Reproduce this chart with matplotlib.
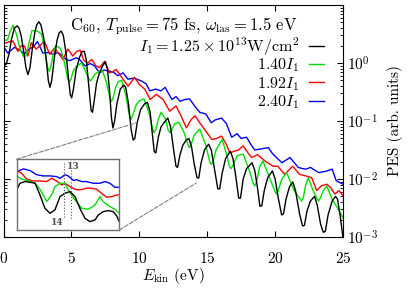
import matplotlib
matplotlib.use("Agg")
import matplotlib.pyplot as plt
import numpy as np
from matplotlib.patches import ConnectionPatch
from matplotlib.lines import Line2D

plt.rcParams["font.family"] = "serif"
plt.rcParams["font.serif"] = ["cmr10", "DejaVu Serif"]
plt.rcParams["mathtext.fontset"] = "cm"
plt.rcParams["axes.unicode_minus"] = False
plt.rcParams["axes.formatter.use_mathtext"] = True

# photoelectron spectra, values are log10(PES)
black_E = [0.0, 0.1, 0.2, 0.4, 0.6, 0.8, 1.0, 1.15, 1.3, 1.5, 1.65, 1.8, 1.95, 2.1,
           2.3, 2.45, 2.6, 2.75, 2.95, 3.15, 3.3, 3.42, 3.55, 3.75, 3.95, 4.1, 4.25,
           4.4, 4.6, 4.8, 4.92, 5.02, 5.15, 5.35, 5.6, 5.8, 5.95, 6.1, 6.3, 6.45,
           6.55, 6.68, 6.85, 7.05, 7.3, 7.5, 7.65, 7.8, 7.95, 8.06, 8.18, 8.35, 8.6,
           8.85, 9.0, 9.2, 9.4, 9.55, 9.67, 9.85, 10.1, 10.4, 10.6, 10.8, 10.95,
           11.1, 11.22, 11.4, 11.6, 11.85, 12.1, 12.3, 12.5, 12.7, 12.82, 12.98,
           13.2, 13.45, 13.65, 13.85, 14.05, 14.25, 14.38, 14.55, 14.8, 15.1, 15.3,
           15.55, 15.78, 15.92, 16.1, 16.35, 16.7, 16.9, 17.1, 17.32, 17.45, 17.65,
           17.9, 18.3, 18.5, 18.7, 18.88, 19.02, 19.2, 19.45, 19.8, 20.0, 20.25,
           20.48, 20.62, 20.8, 21.05, 21.3, 21.5, 21.8, 22.02, 22.16, 22.35, 22.6,
           22.9, 23.1, 23.35, 23.55, 23.7, 23.9, 24.2, 24.45, 24.6, 24.8, 25.0]
black_logpes = [0.0, -0.04, -0.02, 0.15, 0.42, 0.6, 0.64, 0.6, 0.47, 0.18, -0.08, -0.2,
                -0.08, 0.2, 0.52, 0.66, 0.71, 0.66, 0.45, 0.05, -0.3, -0.42, -0.3, 0.1,
                0.4, 0.52, 0.55, 0.48, 0.18, -0.3, -0.55, -0.6, -0.45, -0.12, 0.1, 0.2,
                0.2, 0.05, -0.45, -0.82, -0.85, -0.65, -0.35, -0.18, -0.05, 0.02, -0.1,
                -0.45, -0.95, -1.12, -1.0, -0.7, -0.45, -0.38, -0.42, -0.7, -1.15,
                -1.33, -1.3, -1.02, -0.8, -0.7, -0.68, -0.85, -1.2, -1.53, -1.55,
                -1.28, -1.1, -1.02, -0.95, -1.1, -1.45, -1.78, -1.8, -1.6, -1.42,
                -1.33, -1.3, -1.45, -1.75, -1.98, -1.98, -1.72, -1.5, -1.4, -1.5,
                -1.85, -2.17, -2.17, -1.9, -1.65, -1.52, -1.65, -1.95, -2.33, -2.33,
                -2.0, -1.82, -1.72, -1.85, -2.15, -2.47, -2.46, -2.2, -1.98, -1.86,
                -2.0, -2.35, -2.62, -2.6, -2.35, -2.14, -2.05, -2.2, -2.6, -2.81, -2.8,
                -2.55, -2.38, -2.3, -2.45, -2.78, -2.92, -2.9, -2.62, -2.38, -2.3,
                -2.35, -2.65, -3.02]

green_E = [0.0, 0.3, 0.5, 0.7, 0.95, 1.2, 1.43, 1.55, 1.67, 1.85, 2.1, 2.5, 2.8, 3.05,
           3.25, 3.35, 3.47, 3.65, 3.85, 4.2, 4.5, 4.73, 4.85, 4.97, 5.15, 5.4, 5.75,
           6.05, 6.28, 6.4, 6.52, 6.75, 7.0, 7.3, 7.6, 7.83, 7.95, 8.07, 8.25, 8.45,
           8.7, 9.0, 9.27, 9.4, 9.52, 9.75, 10.0, 10.35, 10.7, 10.98, 11.1, 11.22,
           11.4, 11.6, 11.9, 12.13, 12.25, 12.37, 12.6, 12.9, 13.3, 13.58, 13.7,
           13.82, 14.05, 14.45, 14.9, 15.18, 15.3, 15.42, 15.65, 16.1, 16.4, 16.63,
           16.75, 16.87, 17.2, 17.65, 18.1, 18.38, 18.5, 18.62, 18.85, 19.1, 19.6,
           19.98, 20.1, 20.22, 20.5, 20.85, 21.4, 21.83, 21.95, 22.07, 22.25, 22.45,
           22.8, 23.08, 23.2, 23.32, 23.55, 23.8, 24.2, 24.6, 25.0]
green_logpes = [0.38, 0.4, 0.55, 0.65, 0.5, 0.25, 0.13, 0.1, 0.14, 0.32, 0.56, 0.55,
                0.5, 0.2, -0.08, -0.14, -0.08, 0.14, 0.3, 0.25, 0.0, -0.28, -0.33,
                -0.28, -0.13, -0.05, 0.0, -0.15, -0.27, -0.31, -0.27, -0.19, -0.15,
                -0.14, -0.35, -0.6, -0.66, -0.6, -0.43, -0.32, -0.3, -0.55, -0.9,
                -0.97, -0.9, -0.73, -0.65, -0.62, -0.85, -1.14, -1.2, -1.14, -0.97,
                -0.85, -0.95, -1.16, -1.2, -1.16, -1.05, -1.02, -1.2, -1.41, -1.46,
                -1.4, -1.24, -1.14, -1.42, -1.7, -1.75, -1.7, -1.5, -1.32, -1.55,
                -1.78, -1.82, -1.78, -1.6, -1.57, -1.85, -2.07, -2.12, -2.06, -1.8,
                -1.69, -1.98, -2.21, -2.26, -2.2, -2.0, -1.89, -2.2, -2.34, -2.38,
                -2.33, -2.1, -1.98, -2.2, -2.34, -2.38, -2.33, -2.2, -2.12, -2.35,
                -2.5, -2.67]

red_E = [0.0, 0.35, 0.7, 1.05, 1.3, 1.55, 1.8, 2.04, 2.4, 2.7, 3.0, 3.4, 3.76, 4.1,
         4.37, 4.74, 5.1, 5.4, 5.65, 5.9, 6.2, 6.5, 6.8, 7.08, 7.45, 7.8, 8.05, 8.3,
         8.8, 9.17, 9.66, 10.0, 10.4, 10.8, 11.26, 11.75, 12.24, 12.7, 13.05, 13.47,
         13.8, 14.1, 14.45, 15.07, 15.35, 15.7, 16.05, 16.4, 16.67, 17.0, 17.3,
         17.65, 18.0, 18.27, 18.7, 19.25, 19.86, 20.2, 20.7, 21.3, 21.8, 22.3,
         22.7, 23.06, 23.4, 23.8, 24.1, 24.4, 24.7, 25.0]
red_logpes = [0.33, 0.36, 0.38, 0.2, 0.3, 0.29, 0.12, 0.35, 0.24, 0.3, 0.38, 0.15, 0.26,
              0.15, 0.06, 0.24, 0.12, 0.2, 0.22, 0.05, 0.0, 0.06, -0.05, -0.08, 0.03,
              -0.17, -0.15, -0.11, -0.28, -0.4, -0.25, -0.37, -0.45, -0.63, -0.54,
              -0.63, -0.83, -0.74, -0.9, -1.12, -0.98, -0.91, -1.03, -1.23, -1.32,
              -1.3, -1.26, -1.4, -1.55, -1.52, -1.5, -1.43, -1.55, -1.63, -1.58,
              -1.69, -1.78, -1.78, -1.92, -1.78, -1.92, -1.95, -1.98, -2.2, -2.12,
              -2.09, -2.15, -2.26, -2.2, -2.29]

blue_E = [0.0, 0.32, 0.8, 1.2, 1.55, 1.9, 2.2, 2.5, 2.9, 3.3, 3.64, 4.0, 4.25, 4.6,
          4.87, 5.36, 5.6, 6.0, 6.4, 6.7, 7.08, 7.4, 7.8, 8.1, 8.43, 8.8, 9.17, 9.6,
          10.15, 10.5, 10.77, 11.2, 11.6, 11.9, 12.4, 12.7, 13.0, 13.35, 13.7, 14.1,
          14.45, 14.9, 15.3, 15.6, 16.05, 16.4, 16.8, 17.2, 17.5, 17.9, 18.2, 18.5,
          19.0, 19.5, 19.8, 20.1, 20.5, 21.1, 21.7, 22.0, 22.3, 22.6, 23.2, 23.7,
          24.2, 24.5, 25.0]
blue_logpes = [0.28, 0.17, 0.27, 0.22, 0.16, 0.24, 0.28, 0.37, 0.17, 0.18, 0.15, 0.18,
               0.14, 0.06, 0.04, 0.09, 0.06, -0.05, -0.01, -0.05, -0.17, -0.12, -0.14,
               -0.16, -0.22, -0.17, -0.28, -0.26, -0.31, -0.36, -0.48, -0.45, -0.48,
               -0.42, -0.63, -0.58, -0.66, -0.63, -0.62, -0.75, -0.85, -0.88, -1.03,
               -0.98, -0.95, -1.04, -1.28, -1.22, -1.3, -1.28, -1.4, -1.5, -1.48,
               -1.46, -1.56, -1.63, -1.72, -1.63, -1.8, -1.82, -1.83, -1.8, -1.89,
               -1.87, -1.83, -2.03, -2.09]

# inset (zoom on the 13th/14th peak region)
ins_black_E = [9.8, 9.94, 10.16, 10.37, 10.59, 10.8, 11.01, 11.23, 11.44, 11.66, 11.87,
               12.09, 12.3, 12.51, 12.73, 12.94, 13.16, 13.3, 13.51, 13.73, 13.94,
               14.09, 14.2]
ins_black_logpes = [-1.334, -1.24, -1.216, -1.225, -1.24, -1.405, -1.593, -1.664,
                    -1.617, -1.428, -1.381, -1.358, -1.428, -1.593, -1.735, -1.782,
                    -1.758, -1.688, -1.641, -1.626, -1.641, -1.702, -1.782]
ins_green_E = [9.8, 10.01, 10.3, 10.59, 10.8, 11.09, 11.3, 11.44, 11.66, 11.87, 12.01,
               12.3, 12.59, 12.87, 13.16, 13.37, 13.51, 13.8, 14.01, 14.2]
ins_green_logpes = [-1.136, -1.183, -1.202, -1.24, -1.325, -1.499, -1.405, -1.287,
                    -1.24, -1.24, -1.334, -1.475, -1.593, -1.608, -1.546, -1.428,
                    -1.499, -1.57, -1.608, -1.664]
ins_red_E = [9.8, 10.01, 10.23, 10.51, 10.8, 11.09, 11.3, 11.51, 11.73, 11.87, 12.09,
             12.3, 12.51, 12.8, 13.01, 13.23, 13.44, 13.66, 13.87, 14.09, 14.2]
ins_red_logpes = [-1.06, -1.098, -1.183, -1.207, -1.207, -1.216, -1.169, -1.207, -1.263,
                  -1.24, -1.287, -1.325, -1.334, -1.31, -1.31, -1.325, -1.381, -1.438,
                  -1.428, -1.405, -1.405]
ins_blue_E = [9.8, 10.09, 10.37, 10.66, 10.94, 11.23, 11.51, 11.66, 11.87, 12.01, 12.23,
              12.37, 12.59, 12.8, 13.09, 13.37, 13.59, 13.8, 14.01, 14.2]
ins_blue_logpes = [-1.075, -1.037, -1.06, -1.12, -1.136, -1.136, -1.145, -1.17, -1.12,
                   -1.136, -1.2, -1.19, -1.216, -1.216, -1.24, -1.24, -1.216, -1.24,
                   -1.296, -1.296]

labels = [r"$I_1 = 1.25\times10^{13}\mathrm{W/cm}^2$", r"$1.40I_1$", r"$1.92I_1$",
          r"$2.40I_1$"]
colors = ["black", "#00e000", "#ff0000", "#0000ff"]

fig = plt.figure(figsize=(4.07, 2.90), dpi=100)
ax = fig.add_axes([0.0086, 0.1828, 0.8342, 0.8])

series = [(black_E, black_logpes), (green_E, green_logpes), (red_E, red_logpes),
          (blue_E, blue_logpes)]
for (E, lp), c in zip(series[::-1], colors[::-1]):
    ax.plot(E, 10 ** np.array(lp), color=c, lw=1.0)

ax.set_yscale("log")
ax.set_xlim(0, 25)
ax.set_ylim(1e-3, 10)
ax.set_xticks([0, 5, 10, 15, 20, 25])
ax.set_yticks([1e-3, 1e-2, 1e-1, 1e0])
ax.tick_params(which="both", direction="in", top=True, right=True, left=True,
               labelleft=False, labelright=True, labelsize=11)
ax.tick_params(axis="x", pad=10)
ax.tick_params(axis="y", pad=3)
ax.tick_params(which="major", length=4)
ax.tick_params(which="minor", length=2)
ax.yaxis.set_label_position("right")
ax.set_ylabel("PES (arb. units)", fontsize=11, labelpad=6)
ax.set_xlabel(r"$E_{\rm kin}$ (eV)", fontsize=11, labelpad=0)

ax.text(0.865, 0.91, r"$\mathrm{C}_{60}$, $T_{\rm pulse}=75$ fs, $\omega_{\rm las}=1.5$ eV",
        transform=ax.transAxes, ha="right", va="center", fontsize=12)
handles = [Line2D([], [], color=c, lw=1.0) for c in colors]
leg_kw = dict(frameon=False, markerfirst=False, fontsize=11.6, handlelength=0.95,
              handletextpad=0.6, borderpad=0, borderaxespad=0, loc="center right")
leg1 = ax.legend(handles[:1], labels[:1], bbox_to_anchor=(0.945, 0.822), **leg_kw)
ax.add_artist(leg1)
ax.legend(handles[1:], labels[1:], bbox_to_anchor=(0.945, 0.66), labelspacing=0.06,
          **leg_kw)

axins = fig.add_axes([0.041, 0.207, 0.252, 0.244])
for E, lp, c in [(ins_blue_E, ins_blue_logpes, colors[3]),
                 (ins_red_E, ins_red_logpes, colors[2]),
                 (ins_green_E, ins_green_logpes, colors[1]),
                 (ins_black_E, ins_black_logpes, colors[0])]:
    axins.plot(E, 10 ** np.array(lp), color=c, lw=1.0)
axins.set_yscale("log")
axins.set_xlim(9.8, 14.2)
axins.set_ylim(10 ** -1.9, 10 ** -0.9)
axins.set_xticks([])
axins.set_yticks([])
axins.minorticks_off()
for s in axins.spines.values():
    s.set_color("#707070")
    s.set_linewidth(1.0)
axins.plot([11.84, 11.84], [10 ** -0.96, 10 ** -1.75], ls=":", color="#555555", lw=0.8)
axins.plot([12.13, 12.13], [10 ** -1.05, 10 ** -1.76], ls=":", color="#555555", lw=0.8)
axins.text(12.22, 10 ** -1.0, "13", fontsize=6.5, color="#505050", ha="center",
           va="center", fontweight="bold", family="DejaVu Serif")
axins.text(11.55, 10 ** -1.8, "14", fontsize=6.5, color="#505050", ha="center",
           va="center", fontweight="bold", family="DejaVu Serif")

for xyA, xyB in [((0, 1), (9.8, 10 ** -1.03)), ((1, 0), (14.2, 10 ** -2.07))]:
    con = ConnectionPatch(xyA=xyA, coordsA=axins.transAxes, xyB=xyB,
                          coordsB=ax.transData, ls="--", color="#808080", lw=0.8)
    fig.add_artist(con)

fig.savefig("out.png", dpi=100)
